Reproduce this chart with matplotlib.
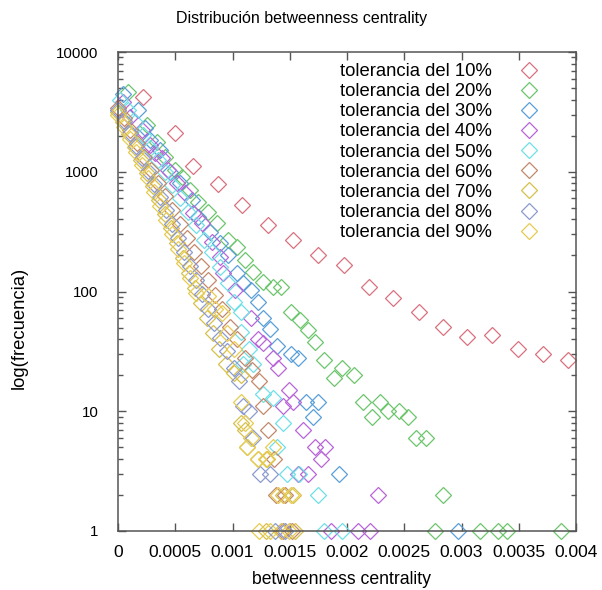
import matplotlib
matplotlib.use("Agg")
import matplotlib.pyplot as plt
from matplotlib.ticker import FixedLocator, LogLocator, NullFormatter, FixedFormatter

plt.rcParams['font.family'] = ['Liberation Sans', 'DejaVu Sans']

labels = ["tolerancia del 10%", "tolerancia del 20%", "tolerancia del 30%",
          "tolerancia del 40%", "tolerancia del 50%", "tolerancia del 60%",
          "tolerancia del 70%", "tolerancia del 80%", "tolerancia del 90%"]
colors = ['#d9707e', '#6cc56c', '#5aa0d8', '#b865d8', '#6ee0e6',
          '#c4876a', '#d8c04a', '#8c9ad0', '#e6cc50']

x10 = [0.000219, 0.000499, 0.000656, 0.000875, 0.001085, 0.00131, 0.00153, 0.00175, 0.00197,
       0.00219, 0.0024, 0.00263, 0.00284, 0.00305, 0.00327, 0.00349, 0.00371, 0.00393]
y10 = [4210, 2100, 1117, 790, 528, 359, 269, 202, 166, 109, 88, 67, 51, 42, 43, 33, 30, 27]

x20 = [0.0000875, 0.000254, 0.000341, 0.000411, 0.000499, 0.00056, 0.00063, 0.0007, 0.000788,
       0.000867, 0.000963, 0.00104, 0.00111, 0.00118, 0.00127, 0.00135, 0.00142, 0.00151,
       0.00159, 0.00166, 0.00172, 0.0018, 0.00189, 0.00196, 0.00206, 0.00214, 0.00222,
       0.00229, 0.00236, 0.00245, 0.00253, 0.0026, 0.00269, 0.00284,
       0.00277, 0.00316, 0.00332, 0.0034, 0.00387]
y20 = [4637, 2455, 1772, 1330, 1035, 906, 704, 559, 460, 373, 269, 236, 183, 145, 119, 108,
       108, 67, 58, 48, 38, 27, 19, 23, 20, 12, 9, 12, 10, 10, 9, 6, 6, 2,
       1, 1, 1, 1, 1]

x30 = [0.000044, 0.000175, 0.000236, 0.00028, 0.000368, 0.000455, 0.000543, 0.000648, 0.0007,
       0.000805, 0.000893, 0.000963, 0.00104, 0.00109, 0.00116, 0.00122, 0.00127, 0.00133,
       0.00139, 0.00151, 0.00157, 0.00164, 0.00175, 0.0017, 0.00193, 0.00297]
y30 = [4500, 3280, 2315, 1841, 1520, 1000, 805, 581, 420, 314, 253, 202, 142, 118, 103, 82,
       60, 49, 35, 30, 28, 12, 12, 9, 3, 1]

x40 = [0.000044, 0.000105, 0.00021, 0.00028, 0.000324, 0.000385, 0.000438, 0.000516, 0.000586,
       0.000657, 0.000735, 0.000823, 0.000893, 0.00092, 0.00102, 0.00116, 0.00122, 0.00127,
       0.00135, 0.0014, 0.00149, 0.00153, 0.00144, 0.00162, 0.00172, 0.00181, 0.00177,
       0.00157, 0.00166, 0.00227, 0.00186, 0.0021, 0.0022]
y40 = [3820, 2860, 2232, 1672, 1430, 1300, 1035, 805, 665, 450, 373, 260, 194, 142, 103, 60,
       40, 37, 28, 23, 15, 12, 11, 7, 5, 5, 4, 3, 3, 2, 1, 1, 1]

x50 = [0.0000175, 0.0000875, 0.000149, 0.000219, 0.00028, 0.00035, 0.000411, 0.000473, 0.000543,
       0.000613, 0.000683, 0.000753, 0.000823, 0.000893, 0.000963, 0.00101, 0.00107, 0.00107,
       0.00114, 0.00109, 0.00118, 0.00127, 0.00135, 0.00144, 0.00139, 0.00148, 0.00158,
       0.00175, 0.0018, 0.00196]
y50 = [3970, 3280, 2600, 2028, 1580, 1253, 1000, 775, 605, 460, 359, 269, 214, 160, 118, 82,
       67, 46, 33, 25, 25, 14, 13, 8, 5, 3, 3, 2, 1, 1]

x60 = [0.0, 0.0000525, 0.000105, 0.000166, 0.000228, 0.000289, 0.00035, 0.000411, 0.000473,
       0.000543, 0.000604, 0.000665, 0.000726, 0.000788, 0.000849, 0.00091, 0.00098, 0.00104,
       0.00111, 0.00117, 0.00123, 0.00127, 0.00131, 0.00136, 0.00138, 0.00146, 0.00144, 0.00152]
y60 = [3400, 2820, 2232, 1740, 1330, 1035, 805, 626, 480, 366, 280, 214, 163, 125, 94, 71,
       51, 40, 28, 22, 18, 11, 7, 4, 2, 2, 1, 1]

x70 = [0.0, 0.0000438, 0.0000963, 0.000149, 0.000201, 0.000254, 0.000306, 0.000359, 0.000411,
       0.000464, 0.000516, 0.000569, 0.000621, 0.000674, 0.000726, 0.000779, 0.000832,
       0.000884, 0.000945, 0.00101, 0.00107, 0.00107, 0.00111, 0.00113, 0.00122, 0.0013,
       0.00144, 0.00153, 0.00129, 0.00142, 0.00155]
y70 = [3160, 2600, 2070, 1612, 1253, 975, 760, 581, 445, 340, 253, 190, 142, 107, 80, 60, 45,
       33, 25, 21, 20, 8, 7, 5, 4, 4, 2, 2, 1, 1, 1]

x80 = [0.0, 0.0000525, 0.000105, 0.000158, 0.00021, 0.000263, 0.000315, 0.000368, 0.00042,
       0.000473, 0.000525, 0.000578, 0.00063, 0.000683, 0.000735, 0.000788, 0.00084, 0.000893,
       0.000954, 0.00101, 0.00106, 0.00109, 0.00114, 0.00118, 0.00124, 0.00133, 0.00137, 0.00146]
y80 = [3280, 2650, 2100, 1640, 1300, 1010, 790, 615, 480, 366, 280, 214, 163, 125, 96, 72,
       55, 41, 32, 23, 18, 11, 10, 6, 3, 3, 1, 1]

x90 = [0.0, 0.0000525, 0.000105, 0.000158, 0.00021, 0.000263, 0.000315, 0.000368, 0.00042,
       0.000473, 0.000525, 0.000578, 0.00063, 0.000683, 0.000788, 0.000849, 0.00091, 0.000954,
       0.00101, 0.00107, 0.00111, 0.00116, 0.00113, 0.00122, 0.00129, 0.00135, 0.0014, 0.00151,
       0.00123, 0.00133, 0.00149]
y90 = [2980, 2370, 1880, 1460, 1140, 890, 680, 520, 396, 305, 225, 173, 130, 98, 92, 71, 66,
       45, 33, 12, 8, 6, 5, 4, 4, 5, 2, 2, 1, 1, 1]

series_x = [x10, x20, x30, x40, x50, x60, x70, x80, x90]
series_y = [y10, y20, y30, y40, y50, y60, y70, y80, y90]

x_ticks = [0, 0.0005, 0.001, 0.0015, 0.002, 0.0025, 0.003, 0.0035, 0.004]
x_ticklabels = ["0", "0.0005", "0.001", "0.0015", "0.002", "0.0025", "0.003", "0.0035", "0.004"]
y_ticks = [1, 10, 100, 1000, 10000]
y_ticklabels = ["1", "10", "100", "1000", "10000"]

fig = plt.figure(figsize=(6.02, 5.90), dpi=100)
ax = fig.add_axes([118/602, 1 - 531/590, (576-118)/602, (531-52)/590])

for xs, ys, c, lab in zip(series_x, series_y, colors, labels):
    ax.plot(xs, ys, linestyle='none', marker='D', markersize=7.8, markerfacecolor='none',
            markeredgecolor=c, markeredgewidth=0.9, label=lab, clip_on=False)

ax.set_yscale('log')
ax.set_xlim(0, 0.004)
ax.set_ylim(1, 10000)
ax.xaxis.set_major_locator(FixedLocator(x_ticks))
ax.xaxis.set_major_formatter(FixedFormatter(x_ticklabels))
ax.yaxis.set_major_locator(FixedLocator(y_ticks))
ax.yaxis.set_major_formatter(FixedFormatter(y_ticklabels))
ax.yaxis.set_minor_locator(LogLocator(base=10, subs=range(2, 10)))
ax.yaxis.set_minor_formatter(NullFormatter())
ax.tick_params(axis='both', which='both', direction='in', top=True, right=True,
               colors='#555555', labelcolor='black')
ax.tick_params(axis='y', which='major', length=6, width=1, labelsize=10.9, pad=14)
ax.tick_params(axis='y', which='minor', length=3.5, width=1)
ax.tick_params(axis='x', which='major', length=6, width=1, labelsize=12.5, pad=10)
for s in ax.spines.values():
    s.set_color('#555555')
    s.set_linewidth(1.1)

fig.text(302/602, 1 - 19/590, "Distribución betweenness centrality", ha='center', va='center',
         fontsize=11.5)
fig.text(342/602, 1 - 580/590, "betweenness centrality", ha='center', va='center', fontsize=12.7)
fig.text(19/602, 1 - 328/590, "log(frecuencia)", ha='center', va='center', rotation=90,
         fontsize=13.3)

leg = ax.legend(loc='upper left', bbox_to_anchor=((340-118)/458, 1 - (63-52)/479),
                markerfirst=False, frameon=False, fontsize=13.3, labelspacing=0.17,
                handlelength=1.0, handletextpad=1.5, borderpad=0, borderaxespad=0)

fig.savefig("out.png", dpi=100)
